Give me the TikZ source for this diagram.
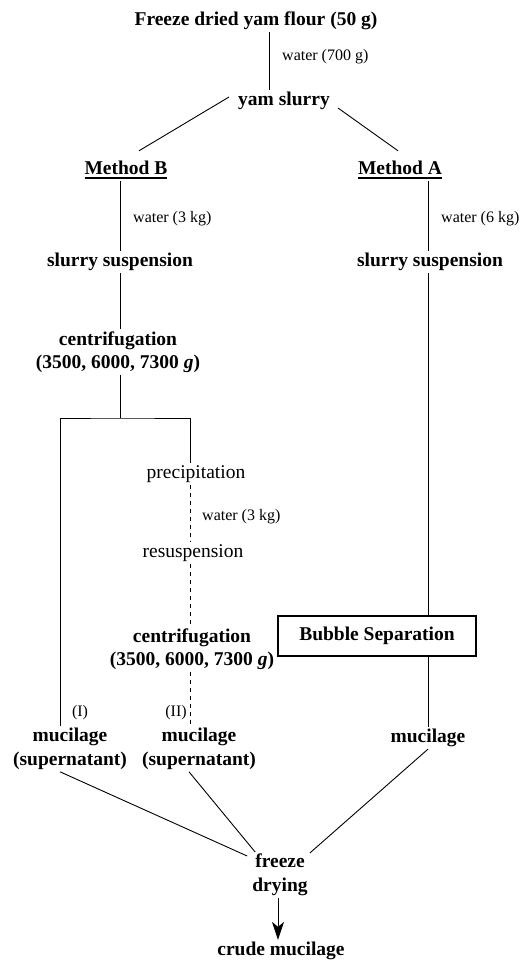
\documentclass[tikz,border=0pt]{standalone}
\usepackage{fontspec}
\setmainfont{Liberation Serif}
\usetikzlibrary{arrows.meta,calc}
\newcommand\ulbar[1]{\setbox0\hbox{#1}\rlap{\rule[-4.5pt]{\wd0}{1.8pt}}\box0}

\begin{document}
\begin{tikzpicture}[x=1pt,y=-1pt,
  bstep/.style={font=\fontsize{19.5}{23.5}\selectfont\bfseries,align=center,inner sep=2pt},
  pstep/.style={font=\fontsize{19.5}{23.5}\selectfont,inner sep=2pt},
  water/.style={font=\fontsize{16}{18}\selectfont,anchor=west,inner sep=0pt},
  flow/.style={line width=0.9pt},
  dflow/.style={line width=0.9pt,dash pattern=on 4pt off 4pt}]
  \useasboundingbox (0,0) rectangle (523,961);

  \node[bstep] (flour) at (256,21) {Freeze dried yam flour (50 g)};
  \node[water] (w700) at (282,57) {water (700 g)};
  \node[bstep] (slurry) at (284,101) {yam slurry};

  \node[bstep] (methB) at (126,170) {\ulbar{Method B}};
  \node[bstep] (methA) at (400,170) {\ulbar{Method A}};

  \node[water] (w3B) at (133,219) {water (3 kg)};
  \node[bstep] (ssB) at (120,262) {slurry suspension};
  \node[bstep] (cfB) at (118,352) {centrifugation\\(3500, 6000, 7300 \textit{g})};

  \node[water] (w6A) at (441,219) {water (6 kg)};
  \node[bstep] (ssA) at (430,262) {slurry suspension};

  \node[pstep] (prec) at (196,474) {precipitation};
  \node[water] (w3C) at (202,517) {water (3 kg)};
  \node[pstep] (resus) at (193,553) {resuspension};
  \node[bstep] (cfC) at (192,649) {centrifugation\\(3500, 6000, 7300 \textit{g})};

  \node[bstep,draw,line width=1.2pt,minimum width=198pt,minimum height=40pt] (bubble) at (377,636) {Bubble Separation};

  \node[water,anchor=center] (lbI) at (80,713) {(I)};
  \node[water,anchor=center] (lbII) at (176,713) {(II)};

  \node[bstep] (mucL) at (70,749) {mucilage\\(supernatant)};
  \node[bstep] (mucM) at (199,749) {mucilage\\(supernatant)};
  \node[bstep] (mucA) at (428,738) {mucilage};

  \node[bstep] (fd) at (280,875) {freeze\\drying};
  \node[bstep] (crude) at (281,951) {crude mucilage};

  \coordinate (split) at (120,418);

  \draw[flow] ($(flour.south)+(13,0)$) -- ($(slurry.north)+(-15,0)$);
  \draw[flow] ($(slurry.west)+(-7,-4)$) -- ($(methB.north)+(13,-8)$);
  \draw[flow] ($(slurry.east)+(6,7)$) -- ($(methA.north)+(-2,-8)$);

  \draw[flow] ($(methB.south)+(-6,0)$) -- (ssB.north);
  \draw[flow] (ssB.south) -- ($(cfB.north)+(2,0)$);
  \draw[flow] ($(cfB.south)+(2,0)$) -- (split);
  \draw[flow] ($(mucL.north)+(-10,0)$) |- (split) -| ($(prec.north)+(-6,0)$);

  \draw[dflow] ($(prec.south)+(-6,0)$) -- ($(resus.north)+(-3,0)$);
  \draw[dflow] ($(resus.south)+(-3,0)$) -- ($(cfC.north)+(-2,0)$);
  \draw[dflow] ($(cfC.south)+(-2,0)$) -- ($(mucM.north)+(-9,0)$);

  \draw[flow] ($(methA.south)+(28,0)$) -- ($(ssA.north)+(-2,0)$);
  \draw[flow] ($(ssA.south)+(-2,0)$) -- ($(bubble.north)+(51,0)$);
  \draw[flow] ($(bubble.south)+(51,0)$) -- (mucA.north);

  \draw[flow] ($(mucL.south)+(-10,0)$) -- ($(fd.west)+(-3,-19)$);
  \draw[flow] ($(mucM.south)+(-10,0)$) -- ($(fd.north west)+(5,0)$);
  \draw[flow] (mucA.south) -- ($(fd.east)+(0,-22)$);

  \draw[flow,-{Stealth[length=18pt,width=12pt,inset=5pt]}] ($(fd.south)+(-2,0)$) -- ($(crude.north)+(-3,0)$);
\end{tikzpicture}
\end{document}
